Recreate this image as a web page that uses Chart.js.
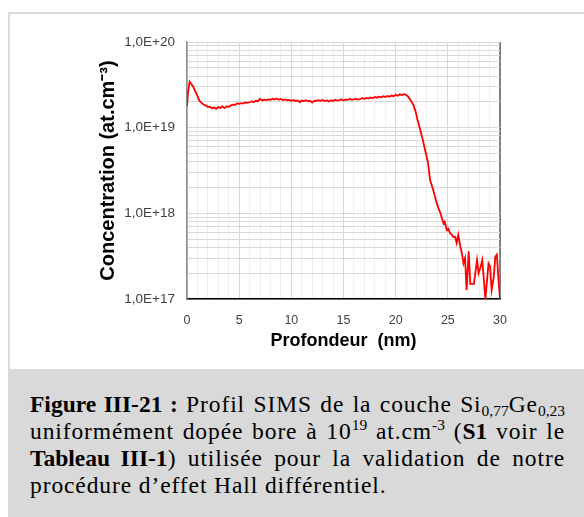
<!DOCTYPE html>
<html lang="fr">
<head>
<meta charset="utf-8">
<title>Profil SIMS Si0,77Ge0,23</title>
<script src="https://cdn.jsdelivr.net/npm/chart.js@4.4.1/dist/chart.umd.min.js"></script>
<style>
    html, body { margin: 0; padding: 0; background: #ffffff; }
    body { width: 584px; height: 517px; position: relative; overflow: hidden; }
    .frame {
        position: absolute; left: 8px; top: 12px; width: 576px; height: 357px;
        border-left: 2px solid #dadada; border-top: 2px solid #dadada; box-sizing: border-box;
    }
    .chart-container { position: absolute; left: 0; top: 0; width: 584px; height: 369px; }
    .caption {
        position: absolute; left: 8px; top: 369px; width: 576px; height: 148px;
        background: #d9d9d9; box-sizing: border-box; padding: 22px 19px 0 22px;
        font-family: "Liberation Serif", "Times New Roman", serif; font-size: 23.5px;
        line-height: 27px; color: #000; letter-spacing: 0.9px;
    }
    .caption b { letter-spacing: 0; }
    .caption .line { white-space: nowrap; text-align: justify; text-align-last: justify; }
    .caption .line.last { text-align-last: left; }
    .caption sub, .caption sup { font-size: 0.66em; line-height: 0; letter-spacing: 0; }
    .caption sub { vertical-align: -0.25em; }
    .caption sup { vertical-align: 0.55em; }
</style>
</head>
<body>
<div class="frame"></div>
<div class="chart-container"><canvas id="simsChart"></canvas></div>
<div class="caption">
    <div class="line"><b>Figure III-21 :</b> Profil SIMS de la couche Si<sub>0,77</sub>Ge<sub>0,23</sub></div>
    <div class="line">uniformément dopée bore à 10<sup>19</sup> at.cm<sup>-3</sup> (<b>S1</b> voir le</div>
    <div class="line"><b>Tableau III-1</b>) utilisée pour la validation de notre</div>
    <div class="line last">procédure d’effet Hall différentiel.</div>
</div>
<script>
// profondeur (nm)
const depthNm = [
    0, 0.1, 0.25, 0.4, 0.6, 0.8, 1.0, 1.2, 1.4, 1.6, 1.8, 2.0, 2.2, 2.4, 2.6, 2.8,
    3.0, 3.2, 3.4, 3.6, 3.8, 4.0, 4.2, 4.4, 4.6, 4.8, 5.0, 5.2, 5.4, 5.6, 5.8,
    6.0, 6.2, 6.4, 6.6, 6.8, 7.0, 7.2, 7.4, 7.6, 7.8, 8.0, 8.2, 8.4, 8.6, 8.8,
    9.0, 9.2, 9.4, 9.6, 9.8, 10.0, 10.2, 10.4, 10.6, 10.8, 11.0, 11.2, 11.4, 11.6, 11.8,
    12.0, 12.2, 12.4, 12.6, 12.8, 13.0, 13.2, 13.4, 13.6, 13.8, 14.0, 14.2, 14.4, 14.6, 14.8,
    15.0, 15.2, 15.4, 15.6, 15.8, 16.0, 16.2, 16.4, 16.6, 16.8, 17.0, 17.2, 17.4, 17.6, 17.8,
    18.0, 18.2, 18.4, 18.6, 18.8, 19.0, 19.2, 19.4, 19.6, 19.8, 20.0, 20.2, 20.4, 20.6, 20.8,
    21.0, 21.2, 21.45, 21.7, 21.9, 22.1, 22.35, 22.6, 22.85, 23.1,
    23.3, 23.6, 23.9, 24.1, 24.3, 24.5, 24.6, 24.7, 24.9, 25.05, 25.2, 25.4, 25.5, 25.7, 25.85,
    26.0, 26.2, 26.35, 26.5, 26.65, 26.8, 27.0, 27.15, 27.3, 27.5, 27.8, 27.95, 28.15, 28.3,
    28.6, 28.9, 29.05, 29.2, 29.4, 29.55, 29.7, 29.85, 30.0
];

// concentration de bore (at.cm-3)
const boronConc = [
    1.79e19, 2.60e19, 3.44e19, 3.25e19, 3.00e19, 2.65e19, 2.35e19, 2.05e19, 1.95e19, 1.85e19, 1.82e19, 1.74e19, 1.76e19, 1.68e19, 1.72e19, 1.66e19,
    1.74e19, 1.70e19, 1.77e19, 1.69e19, 1.78e19, 1.74e19, 1.82e19, 1.86e19, 1.84e19, 1.92e19, 1.90e19, 1.93e19, 1.91e19, 1.97e19, 1.95e19,
    1.98e19, 2.02e19, 1.99e19, 2.06e19, 2.03e19, 2.18e19, 2.08e19, 2.12e19, 2.10e19, 2.14e19, 2.11e19, 2.17e19, 2.13e19, 2.19e19, 2.12e19,
    2.16e19, 2.10e19, 2.14e19, 2.08e19, 2.11e19, 2.06e19, 2.10e19, 2.05e19, 2.08e19, 1.98e19, 2.07e19, 2.04e19, 2.09e19, 2.03e19, 2.06e19,
    1.96e19, 2.07e19, 2.05e19, 2.09e19, 2.06e19, 2.10e19, 2.04e19, 2.08e19, 2.02e19, 2.09e19, 2.05e19, 2.12e19, 2.07e19, 2.10e19, 2.14e19,
    2.09e19, 2.13e19, 2.11e19, 2.16e19, 2.12e19, 2.14e19, 2.17e19, 2.13e19, 2.16e19, 2.21e19, 2.17e19, 2.22e19, 2.19e19, 2.25e19, 2.21e19,
    2.28e19, 2.24e19, 2.30e19, 2.26e19, 2.33e19, 2.28e19, 2.35e19, 2.30e19, 2.37e19, 2.33e19, 2.42e19, 2.36e19, 2.45e19, 2.40e19, 2.46e19,
    2.42e19, 2.30e19, 2.08e19, 1.84e19, 1.55e19, 1.23e19, 9.5e18, 7.2e18, 5.3e18, 3.9e18,
    2.45e18, 1.87e18, 1.37e18, 1.15e18, 1.0e18, 8.2e17, 7.6e17, 8.0e17, 6.4e17, 6.6e17, 5.9e17, 5.6e17, 5.3e17, 5.3e17, 4.5e17,
    5.6e17, 4.1e17, 3.4e17, 2.6e17, 3.0e17, 1.27e17, 3.6e17, 1.5e17, 1.5e17, 1.5e17, 2.85e17, 2.0e17, 2.4e17, 2.85e17,
    1.0e17, 2.6e17, 2.4e17, 1.27e17, 1.8e17, 3.1e17, 3.3e17, 1.7e17, 1.0e17
];

const yTickLabels = ['1,0E+17', '1,0E+18', '1,0E+19', '1,0E+20'];
const xTickLabels = ['0', '5', '10', '15', '20', '25', '30'];

const sans = 'Liberation Sans, Arial, sans-serif';

const ctx = document.getElementById('simsChart').getContext('2d');

new Chart(ctx, {
    type: 'line',
    data: {
        datasets: [{
            label: 'Bore',
            data: depthNm.map((d, i) => ({ x: d, y: boronConc[i] })),
            borderColor: '#ff0000',
            borderWidth: 1.8,
            pointRadius: 0,
            tension: 0,
            fill: false
        }]
    },
    options: {
        responsive: true,
        maintainAspectRatio: false,
        animation: false,
        layout: { padding: { top: 42, right: 84, left: 0, bottom: 0 } },
        plugins: {
            legend: { display: false },
            tooltip: { enabled: false }
        },
        scales: {
            x: {
                type: 'linear',
                min: 0,
                max: 30,
                afterBuildTicks: scale => {
                    const ticks = [];
                    for (let v = 0; v <= 30; v++) ticks.push({ value: v });
                    scale.ticks = ticks;
                },
                afterFit: scale => { scale.height = 70; },
                ticks: {
                    autoSkip: false,
                    maxRotation: 0,
                    padding: 14,
                    color: '#404040',
                    font: { family: sans, size: 12.5 },
                    callback: v => v % 5 === 0 ? xTickLabels[v / 5] : ''
                },
                grid: {
                    drawTicks: false,
                    color: c => c.tick.value === 30 ? '#7f7f7f' : (c.tick.value % 5 === 0 ? '#d6d6d6' : '#eeeeee'),
                    lineWidth: c => c.tick.value === 30 ? 2 : 1
                },
                border: { color: '#000000', width: 1.5 },
                title: {
                    display: true,
                    text: 'Profondeur  (nm)',
                    color: '#000000',
                    font: { family: sans, size: 18, weight: 'bold' },
                    padding: { top: 0, bottom: 17 }
                }
            },
            y: {
                type: 'logarithmic',
                min: 1e17,
                max: 1e20,
                afterBuildTicks: scale => {
                    const ticks = [];
                    for (let e = 17; e < 20; e++) {
                        for (let m = 1; m <= 9; m++) ticks.push({ value: m * Math.pow(10, e), exp: e, m: m });
                    }
                    ticks.push({ value: 1e20, exp: 20, m: 1 });
                    scale.ticks = ticks;
                },
                afterFit: scale => { scale.width = 187; },
                ticks: {
                    autoSkip: false,
                    padding: 12,
                    color: '#404040',
                    font: { family: sans, size: 13.5 },
                    callback: function (v, i, ticks) {
                        const t = ticks[i];
                        return t.m === 1 ? yTickLabels[t.exp - 17] : '';
                    }
                },
                grid: {
                    drawTicks: false,
                    color: '#d9d9d9'
                },
                border: { color: '#8c8c8c', width: 1.5 },
                title: {
                    display: true,
                    text: 'Concentration (at.cm⁻³)',
                    color: '#000000',
                    font: { family: sans, size: 20, weight: 'bold' },
                    padding: { top: 96, bottom: 0 }
                }
            }
        }
    }
});
</script>
</body>
</html>
